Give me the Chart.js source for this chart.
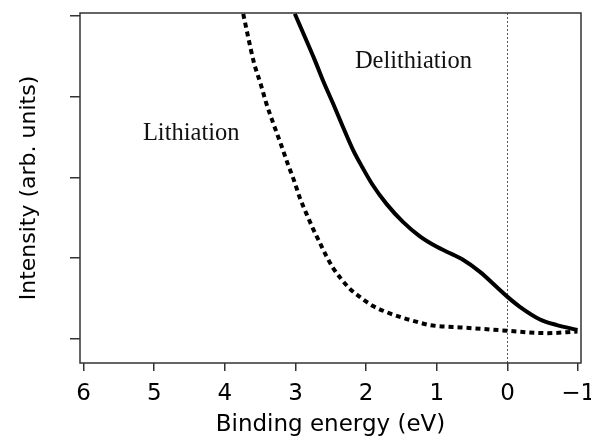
<!DOCTYPE html>
<html>
<head>
<meta charset="utf-8">
<script src="https://cdn.jsdelivr.net/npm/chart.js@4.4.0/dist/chart.umd.min.js"></script>
<style>
  html, body { margin: 0; padding: 0; background: #fff; }
  #wrap { width: 591px; height: 443px; }
</style>
</head>
<body>
<div id="wrap"><canvas id="spec"></canvas></div>
<script>
// binding energy (eV) / intensity (arb. units)
const delithE = [3.01, 2.72, 2.61, 2.47, 2.33, 2.19, 2.05, 1.91, 1.71, 1.48, 1.24, 1.00, 0.86, 0.63, 0.39, 0.15, 0.0, -0.17, -0.46, -0.70, -0.99];
const delithI = [4.03, 3.44, 3.20, 2.92, 2.63, 2.35, 2.12, 1.91, 1.67, 1.45, 1.27, 1.14, 1.08, 0.98, 0.83, 0.64, 0.52, 0.40, 0.24, 0.17, 0.11];
const lithE = [3.74, 3.67, 3.59, 3.49, 3.41, 3.31, 3.21, 3.11, 3.02, 2.94, 2.84, 2.75, 2.65, 2.56, 2.47, 2.37, 2.23, 2.09, 1.91, 1.71, 1.48, 1.28, 1.10, 0.63, 0.0, -0.56, -0.99];
const lithI = [4.03, 3.74, 3.43, 3.15, 2.91, 2.66, 2.42, 2.17, 1.96, 1.75, 1.54, 1.36, 1.18, 1.02, 0.88, 0.76, 0.62, 0.52, 0.41, 0.33, 0.26, 0.21, 0.17, 0.14, 0.10, 0.07, 0.09];
const xTicks = [6, 5, 4, 3, 2, 1, 0, -1];
const yTicks = [0, 1, 2, 3, 4];
const notes = ['Delithiation', 'Lithiation'];
const noteE = [2.16, 5.16];
const noteI = [3.36, 2.47];

const pts = (xs, ys) => xs.map((x, i) => ({x: x, y: ys[i]}));

const extras = {
  id: 'extras',
  beforeDatasetsDraw(chart) {
    const {ctx, chartArea: a, scales: {x}} = chart;
    const x0 = x.getPixelForValue(0);
    ctx.save();
    ctx.strokeStyle = '#555';
    ctx.lineWidth = 1;
    ctx.setLineDash([2, 2]);
    ctx.beginPath();
    ctx.moveTo(x0, a.top);
    ctx.lineTo(x0, a.bottom);
    ctx.stroke();
    ctx.restore();
  },
  afterDraw(chart) {
    const {ctx, chartArea: a, scales: {x, y}} = chart;
    ctx.save();
    ctx.strokeStyle = '#333';
    ctx.lineWidth = 1.5;
    ctx.strokeRect(a.left, a.top, a.right - a.left, a.bottom - a.top);
    ctx.fillStyle = '#111';
    ctx.font = '24.5px "Liberation Serif", "DejaVu Serif", serif';
    ctx.textBaseline = 'alphabetic';
    notes.forEach((t, i) => {
      ctx.fillText(t, x.getPixelForValue(noteE[i]), y.getPixelForValue(noteI[i]));
    });
    ctx.restore();
  }
};

new Chart(document.getElementById('spec'), {
  type: 'line',
  data: {
    datasets: [{
        label: 'Delithiation',
        data: pts(delithE, delithI),
        borderColor: '#000',
        borderWidth: 4,
        pointRadius: 0,
        cubicInterpolationMode: 'monotone',
        fill: false
      },
      {
        label: 'Lithiation',
        data: pts(lithE, lithI),
        borderColor: '#000',
        borderWidth: 4,
        borderDash: [5, 4],
        pointRadius: 0,
        cubicInterpolationMode: 'monotone',
        fill: false
      }
    ]
  },
  options: {
    animation: false,
    responsive: true,
    maintainAspectRatio: false,
    layout: {
      padding: {top: 13, right: 10, left: 12, bottom: 0}
    },
    plugins: {
      legend: {display: false},
      tooltip: {enabled: false}
    },
    scales: {
      x: {
        type: 'linear',
        reverse: true,
        min: -1.04,
        max: 6.05,
        afterBuildTicks: s => { s.ticks = xTicks.map(v => ({value: v})); },
        afterFit: s => { s.height = 80; s.paddingLeft = 0; s.paddingRight = 0; },
        grid: {drawOnChartArea: false, drawTicks: true, tickLength: 8, color: '#333', lineWidth: 1.5},
        border: {display: false},
        ticks: {
          color: '#000',
          padding: 9,
          maxRotation: 0,
          font: {family: '"DejaVu Sans", sans-serif', size: 23},
          callback: v => v < 0 ? '\u2212' + Math.abs(v) : String(v)
        },
        title: {
          display: true,
          text: 'Binding energy (eV)',
          color: '#000',
          padding: {top: 0},
          font: {family: '"DejaVu Sans", sans-serif', size: 23}
        }
      },
      y: {
        type: 'linear',
        min: -0.3,
        max: 4.04,
        afterBuildTicks: s => { s.ticks = yTicks.map(v => ({value: v})); },
        afterFit: s => { s.width = 68; s.paddingTop = 0; s.paddingBottom = 0; },
        grid: {drawOnChartArea: false, drawTicks: true, tickLength: 10, color: '#333', lineWidth: 1.5},
        border: {display: false},
        ticks: {display: true, callback: () => ''},
        title: {
          display: true,
          text: 'Intensity (arb. units)',
          color: '#000',
          font: {family: '"DejaVu Sans", sans-serif', size: 22}
        }
      }
    }
  },
  plugins: [extras]
});
</script>
</body>
</html>
